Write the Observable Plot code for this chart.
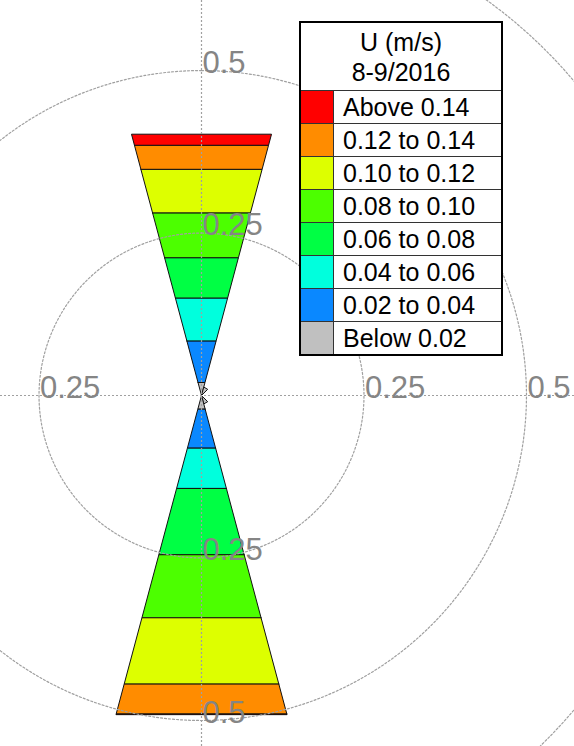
<!DOCTYPE html>
<html>
<head>
<meta charset="utf-8">
<script src="https://cdn.jsdelivr.net/npm/d3@7"></script>
<script src="https://cdn.jsdelivr.net/npm/@observablehq/plot@0.6"></script>
<style>
  html, body { margin: 0; padding: 0; background: #fff; }
  #wrap { position: relative; width: 574px; height: 746px; overflow: hidden; }
  #legend { position: absolute; left: 299px; top: 21px; width: 200px; border: 2px solid #000; background: #fff;
            font-family: "Liberation Sans", Arial, sans-serif; font-size: 25px; color: #000; }
  #legend .title { text-align: center; line-height: 30px; padding: 4px 0 3px 0; border-bottom: 1px solid #333; }
  #legend .row { display: flex; height: 32px; border-bottom: 1px solid #333; }
  #legend .row:last-child { border-bottom: none; }
  #legend .sw { width: 32px; border-right: 1px solid #333; flex: none; }
  #legend .lab { padding-left: 9px; line-height: 32px; white-space: nowrap; }
</style>
</head>
<body>
<div id="wrap"></div>
<script>
// ---- data ----
const legendTitle = ["U (m/s)", "8-9/2016"];
const bins = ["Below 0.02", "0.02 to 0.04", "0.04 to 0.06", "0.06 to 0.08", "0.08 to 0.10", "0.10 to 0.12", "0.12 to 0.14", "Above 0.14"];
const binColors = ["#c0c0c0", "#0a88ff", "#00ffdd", "#00ff44", "#4cff00", "#ddff00", "#ff8c00", "#ff0000"];
const directions = ["N", "NNE", "SSE", "S"];
const angles = [0, 30, 150, 180];
// frequency in each speed bin, per direction (order of bins)
const freqN   = [0.020, 0.064, 0.066, 0.062, 0.069, 0.067, 0.037, 0.017];
const freqNNE = [0.013, 0, 0, 0, 0, 0, 0, 0];
const freqSSE = [0.013, 0, 0, 0, 0, 0, 0, 0];
const freqS   = [0.021, 0.060, 0.062, 0.102, 0.097, 0.102, 0.046, 0.001];
const freqs = [freqN, freqNNE, freqSSE, freqS];
const gridRadii = [0.25, 0.5, 0.75];
const axisLabels = [
  {dir: "N", r: 0.25, text: "0.25"}, {dir: "N", r: 0.5, text: "0.5"},
  {dir: "S", r: 0.25, text: "0.25"}, {dir: "S", r: 0.5, text: "0.5"},
  {dir: "W", r: 0.25, text: "0.25"},
  {dir: "E", r: 0.25, text: "0.25"}, {dir: "E", r: 0.5, text: "0.5"}
];

// ---- geometry ----
const W = 574, H = 746, CX = 201, CY = 395, K = 650; // px per unit
const halfAngle = 15 * Math.PI / 180;
const polys = [];
freqs.forEach((f, di) => {
  const th = angles[di] * Math.PI / 180;
  const ux = Math.sin(th), uy = Math.cos(th), px = Math.cos(th), py = -Math.sin(th);
  const t = Math.tan(halfAngle);
  let r0 = 0;
  f.forEach((v, bi) => {
    if (v <= 0) return;
    const r1 = r0 + v;
    const pts = [[r0, -1], [r0, 1], [r1, 1], [r1, -1], [r0, -1]];
    pts.forEach(([r, s]) => polys.push({id: directions[di] + bi, bin: bins[bi], x: r * ux + s * r * t * px, y: r * uy + s * r * t * py}));
    r0 = r1;
  });
});
const circles = [];
gridRadii.forEach(r => { for (let a = 0; a <= 360; a += 2) { const q = a * Math.PI / 180; circles.push({r, x: r * Math.sin(q), y: r * Math.cos(q)}); } });
const dirVec = {N: [0, 1], S: [0, -1], E: [1, 0], W: [-1, 0]};
const labels = axisLabels.map(d => ({text: d.text, x: dirVec[d.dir][0] * d.r, y: dirVec[d.dir][1] * d.r}));

const font = "Liberation Sans, Arial, sans-serif";
const chart = Plot.plot({
  width: W, height: H,
  marginTop: 0, marginBottom: 0, marginLeft: 0, marginRight: 0,
  x: {domain: [-CX / K, (W - CX) / K], axis: null},
  y: {domain: [-(H - CY) / K, CY / K], axis: null},
  color: {domain: bins, range: binColors},
  style: {fontFamily: font, background: "#fff"},
  marks: [
    Plot.line(polys, {x: "x", y: "y", z: "id", fill: "bin", stroke: "#111", strokeWidth: 1, curve: "linear"}),
    Plot.line(circles, {x: "x", y: "y", z: "r", stroke: "#a0a0a0", strokeWidth: 1.2, strokeDasharray: "2,2", curve: "linear"}),
    Plot.ruleX([0], {stroke: "#a0a0a0", strokeWidth: 1.2, strokeDasharray: "2,2"}),
    Plot.ruleY([0], {stroke: "#a0a0a0", strokeWidth: 1.2, strokeDasharray: "2,2"}),
    Plot.text(labels, {x: "x", y: "y", text: "text", textAnchor: "start", lineAnchor: "bottom", dx: 1, dy: 2, fontSize: 31, fill: "#858585", fontFamily: font})
  ]
});
const wrap = document.getElementById("wrap");
wrap.appendChild(chart);

// legend
const lg = document.createElement("div");
lg.id = "legend";
const title = document.createElement("div");
title.className = "title";
title.innerHTML = legendTitle.join("<br>");
lg.appendChild(title);
for (let i = bins.length - 1; i >= 0; i--) {
  const row = document.createElement("div");
  row.className = "row";
  const sw = document.createElement("div");
  sw.className = "sw";
  sw.style.background = binColors[i];
  const lab = document.createElement("div");
  lab.className = "lab";
  lab.textContent = bins[i];
  row.appendChild(sw); row.appendChild(lab);
  lg.appendChild(row);
}
wrap.appendChild(lg);
</script>
</body>
</html>
